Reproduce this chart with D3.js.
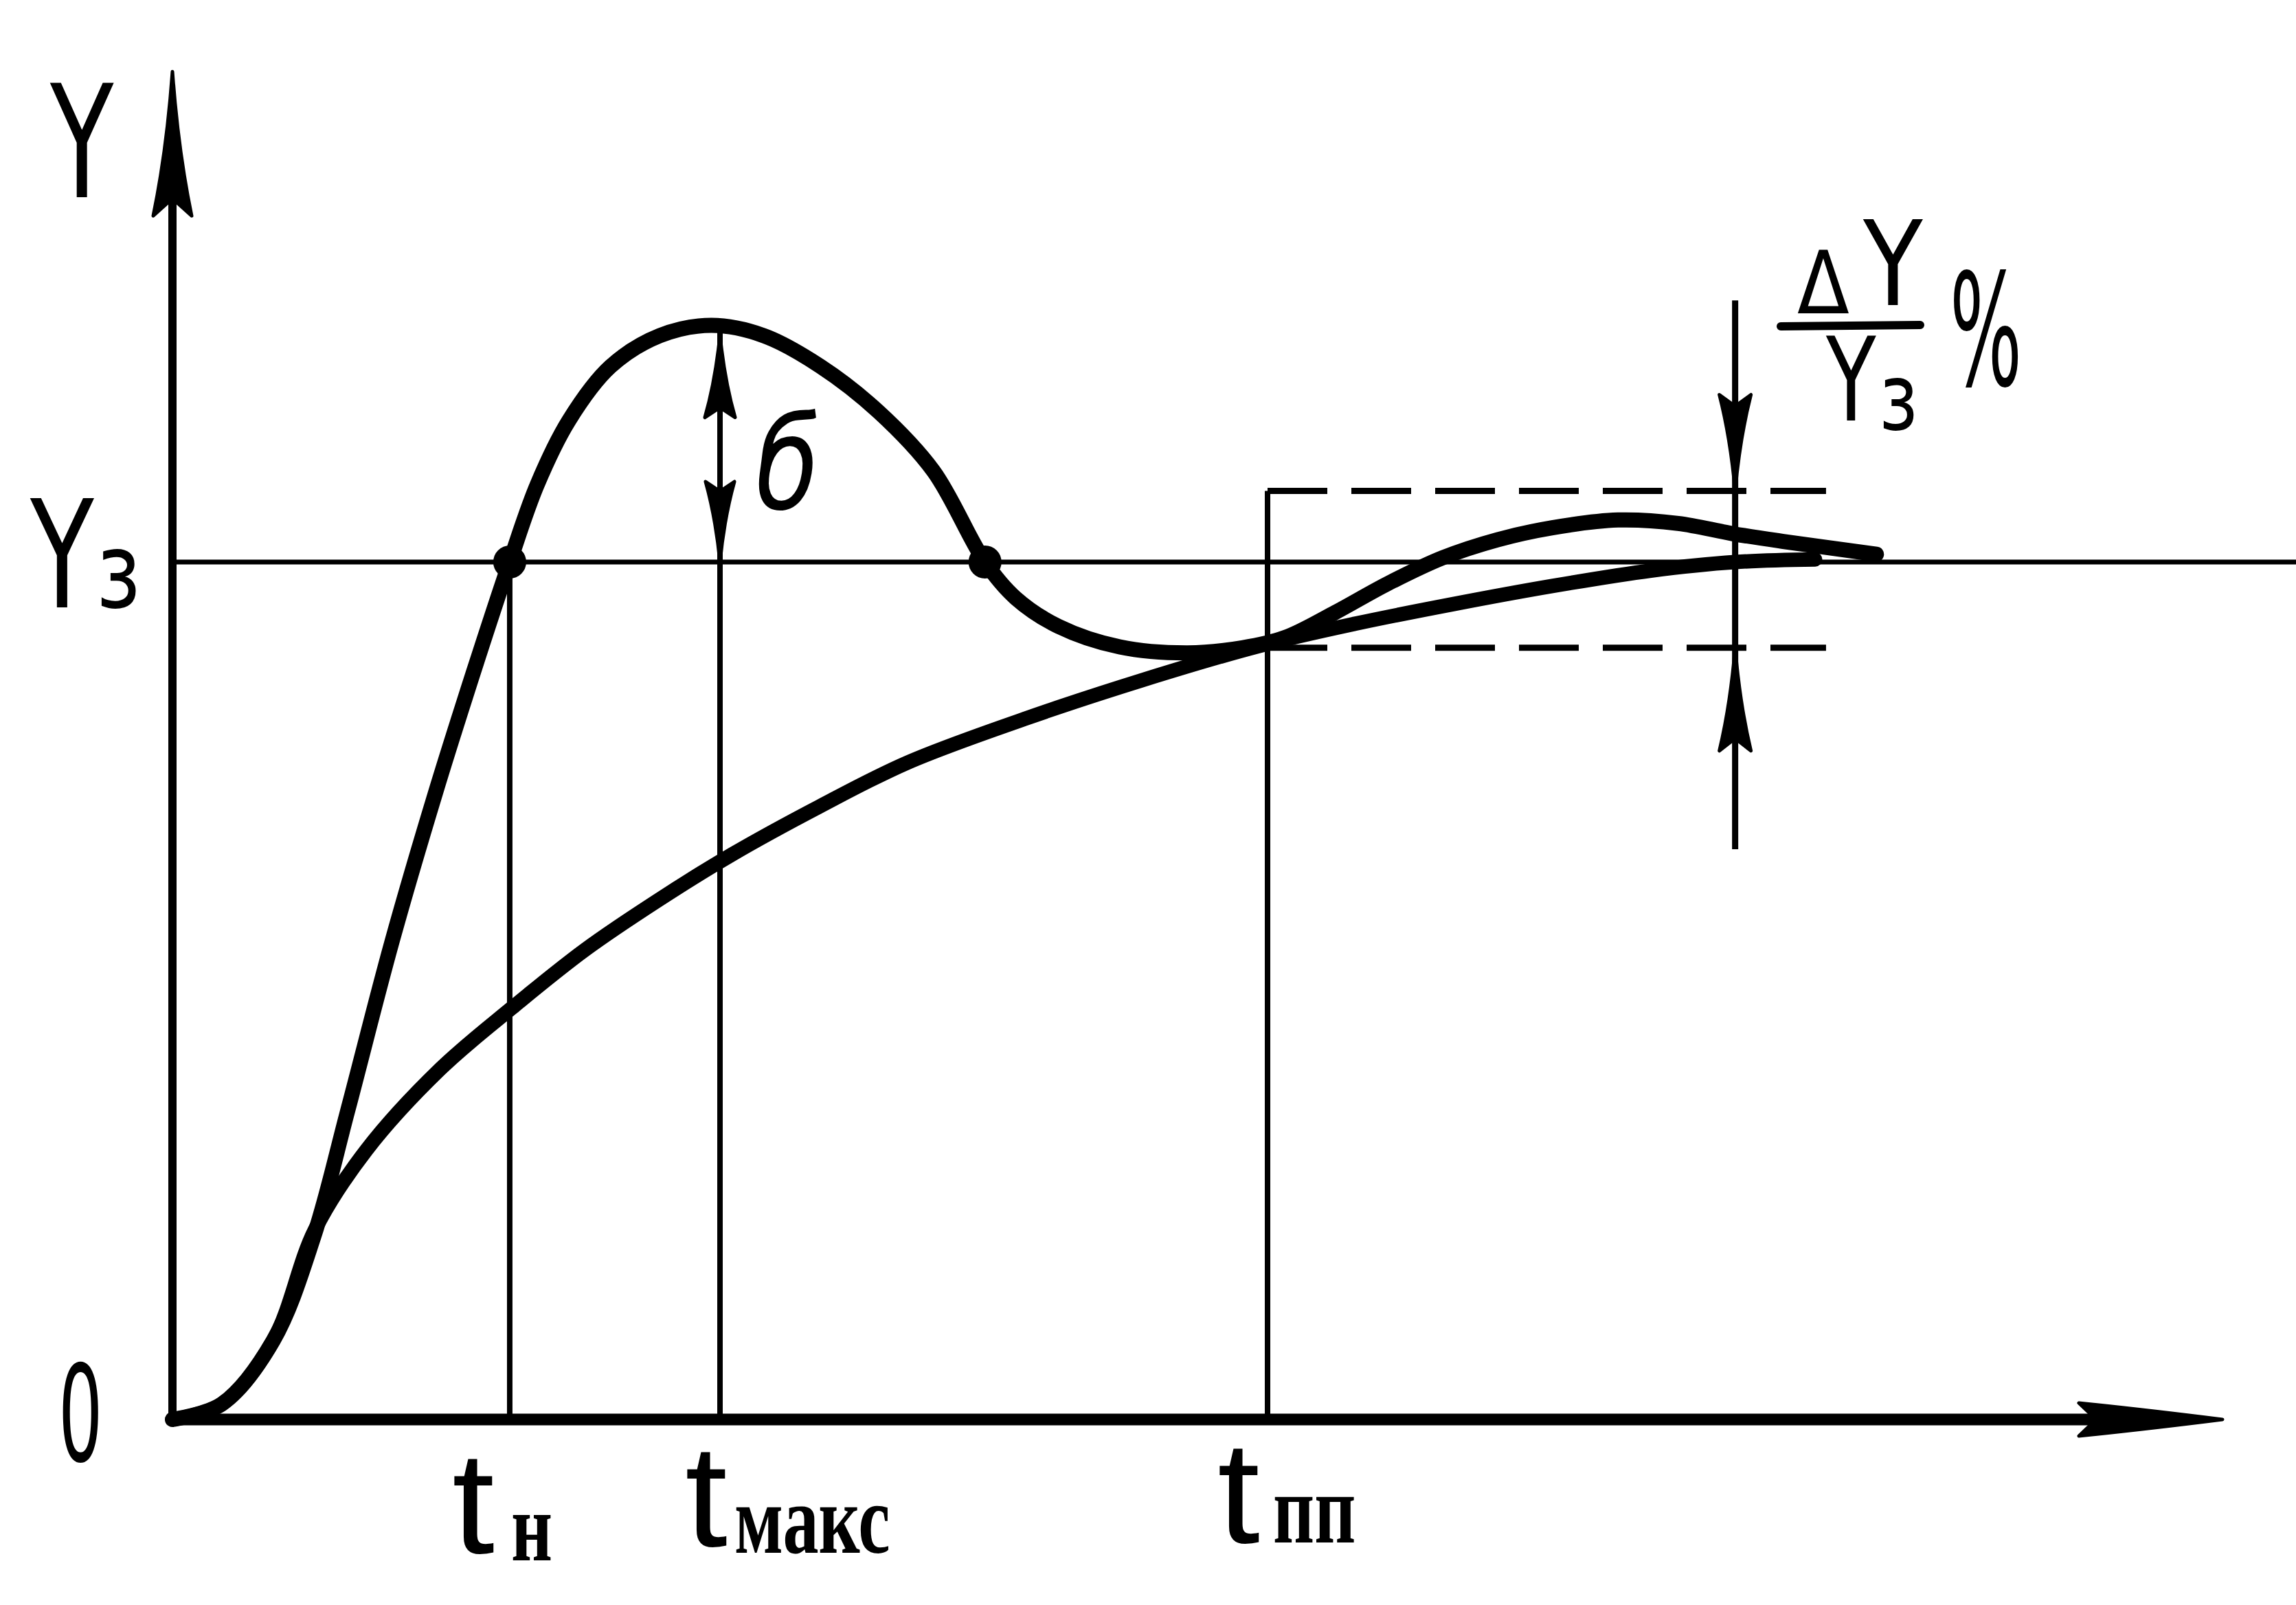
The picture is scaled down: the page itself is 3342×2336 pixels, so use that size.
<!DOCTYPE html>
<html>
<head>
<meta charset="utf-8">
<script src="https://cdn.jsdelivr.net/npm/d3@7"></script>
<style>
  body { margin: 0; background: #fff; }
  svg { display: block; }
</style>
</head>
<body>
<div id="chart"></div>
<script>
// values: t in units where t_pp = 10, Y in units of Y3
const overshootT = [0, 0.45, 0.92, 1.29, 1.6, 2.0, 2.4, 2.75, 3.08, 3.33, 3.62, 4.0, 4.45, 4.92, 5.4, 5.92, 6.45, 6.95, 7.42, 7.7, 8.09, 8.65, 9.27, 9.77, 10.16, 10.6, 11.1, 11.6, 12.1, 12.6, 13.2, 13.75, 14.25, 14.71, 15.56];
const overshootY = [0, 0.018, 0.092, 0.213, 0.36, 0.555, 0.73, 0.872, 1.0, 1.09, 1.165, 1.228, 1.264, 1.276, 1.264, 1.228, 1.175, 1.106, 1.0, 0.958, 0.925, 0.901, 0.894, 0.900, 0.912, 0.940, 0.975, 1.005, 1.026, 1.040, 1.049, 1.045, 1.033, 1.024, 1.009];

const smoothT = [0, 0.45, 0.92, 1.30, 1.77, 2.44, 3.10, 3.77, 4.44, 5.11, 5.91, 6.71, 7.78, 8.85, 9.92, 10.8, 11.7, 12.6, 13.5, 14.27, 15.0];
const smoothY = [0, 0.018, 0.092, 0.221, 0.314, 0.408, 0.480, 0.548, 0.606, 0.659, 0.715, 0.766, 0.817, 0.862, 0.902, 0.928, 0.951, 0.972, 0.990, 1.0, 1.003];

// marked times on the t axis and their labels
const markTimes = [3.08, 5.0, 10.0];
const markSubs = ["н", "макс", "пп"];
// crossings of Y3 that get a dot
const dotTimes = [3.08, 7.42];

const setPoint = 1.0;
const peakValue = 1.276;
const bandUpper = 1.083;
const bandLower = 0.900;
const bandEndT = 15.1;
const checkT = 14.27;
const checkTop = 1.305, checkBottom = 0.665;
const axisEndT = 18.72;
const axisTopY = 1.572;

const width = 3342, height = 2336;

const svg = d3.select('#chart').append('svg')
    .attr('width', width)
    .attr('height', height)
    .style('background', '#fff');

const x = d3.scaleLinear().domain([0, 10]).range([251, 1845]);
const y = d3.scaleLinear().domain([0, 1]).range([2066, 818]);

const ink = '#000';

function vline(t, y0, y1, w) {
    svg.append('line')
        .attr('x1', x(t)).attr('x2', x(t))
        .attr('y1', y(y0)).attr('y2', y(y1))
        .attr('stroke', ink).attr('stroke-width', w);
}

// narrow hand-drawn arrow head, sides pulled in by `bulge`
function arrowHead(tx, ty, dx, dy, len, half, bulge) {
    bulge = bulge === undefined ? 0.3 : bulge;
    const px = -dy, py = dx;
    const bx = tx - dx * len, by = ty - dy * len;
    const c1 = [tx - dx * len * 0.55 + px * half * bulge, ty - dy * len * 0.55 + py * half * bulge];
    const c2 = [tx - dx * len * 0.55 - px * half * bulge, ty - dy * len * 0.55 - py * half * bulge];
    const n = [tx - dx * len * 0.88, ty - dy * len * 0.88];
    const p = d3.path();
    p.moveTo(tx, ty);
    p.quadraticCurveTo(c1[0], c1[1], bx + px * half, by + py * half);
    p.lineTo(n[0], n[1]);
    p.lineTo(bx - px * half, by - py * half);
    p.quadraticCurveTo(c2[0], c2[1], tx, ty);
    p.closePath();
    svg.append('path').attr('d', p.toString())
        .attr('fill', ink).attr('stroke', ink)
        .attr('stroke-width', 5).attr('stroke-linejoin', 'round');
}

// Y3 reference line
svg.append('line')
    .attr('x1', x(0)).attr('x2', width)
    .attr('y1', y(setPoint)).attr('y2', y(setPoint))
    .attr('stroke', ink).attr('stroke-width', 7);

// axes
svg.append('line')
    .attr('x1', x(0)).attr('x2', x(0))
    .attr('y1', y(0) + 6).attr('y2', y(axisTopY) + 60)
    .attr('stroke', ink).attr('stroke-width', 12);
arrowHead(x(0), y(axisTopY), 0, -1, 210, 28);

svg.append('line')
    .attr('x1', x(0) - 6).attr('x2', x(axisEndT) - 80)
    .attr('y1', y(0)).attr('y2', y(0))
    .attr('stroke', ink).attr('stroke-width', 17);
arrowHead(x(axisEndT), y(0), 1, 0, 209, 24, 0.6);

// marker verticals
vline(markTimes[0], 0, setPoint, 8);
vline(markTimes[1], 0, peakValue, 8);
vline(markTimes[2], 0, bandUpper, 8);

// overshoot arrows on t_max
arrowHead(x(markTimes[1]), y(peakValue) + 14, 0, -1, 120, 22);
arrowHead(x(markTimes[1]), y(setPoint), 0, 1, 117, 21);

// tolerance band
[bandUpper, bandLower].forEach(v => {
    svg.append('line')
        .attr('x1', x(markTimes[2])).attr('x2', x(bandEndT))
        .attr('y1', y(v)).attr('y2', y(v))
        .attr('stroke', ink).attr('stroke-width', 9)
        .attr('stroke-dasharray', '87 35');
});

// band width arrows
vline(checkT, checkBottom, checkTop, 9);
arrowHead(x(checkT), y(bandUpper), 0, 1, 140, 23);
arrowHead(x(checkT), y(bandLower), 0, -1, 150, 23);

// response curves
const line = d3.line()
    .x(d => x(d[0]))
    .y(d => y(d[1]))
    .curve(d3.curveCatmullRom.alpha(0.5));

svg.append('path')
    .datum(smoothT.map((t, i) => [t, smoothY[i]]))
    .attr('d', line)
    .attr('fill', 'none').attr('stroke', ink)
    .attr('stroke-width', 21).attr('stroke-linecap', 'round').attr('stroke-linejoin', 'round');

svg.append('path')
    .datum(overshootT.map((t, i) => [t, overshootY[i]]))
    .attr('d', line)
    .attr('fill', 'none').attr('stroke', ink)
    .attr('stroke-width', 22).attr('stroke-linecap', 'round').attr('stroke-linejoin', 'round');

svg.selectAll('circle.cross')
    .data(dotTimes)
    .join('circle')
    .attr('class', 'cross')
    .attr('cx', d => x(d)).attr('cy', y(setPoint))
    .attr('r', 24).attr('fill', ink);

// text
function label(px, py, str, size, sx, opts) {
    opts = opts || {};
    return svg.append('text')
        .attr('transform', `translate(${px},${py}) scale(${sx},1)`)
        .attr('font-family', opts.family || 'DejaVu Sans')
        .attr('font-size', size)
        .attr('font-weight', opts.weight || 'normal')
        .attr('font-style', opts.style || 'normal')
        .attr('fill', ink)
        .text(str);
}

label(73, 287, 'Y', 229, 0.66);
// Y with subscript з
label(44, 884, 'Y', 217, 0.7);
label(140, 884, 'з', 152, 0.8);
label(85, 2126, '0', 195, 0.52);

// time marks
const tDx = [-84, -51, -73];
const subDx = [2, 21, 8];
const subBase = [2271, 2260, 2245];
const tBase = [2260, 2250, 2245];
markTimes.forEach((t, i) => {
    label(x(t) + tDx[i], tBase[i], 't', 212, 1.05, { family: 'Liberation Sans' });
    label(x(t) + subDx[i], subBase[i], markSubs[i], 145, 0.72, { family: 'Liberation Serif', weight: 'bold' });
});

// overshoot label
label(1100, 740, 'б', 188, 0.8, { style: 'italic' });

// ΔY / Y3 %
label(2616, 456, 'Δ', 126, 0.88);
label(2712, 444, 'Y', 171, 0.83);
svg.append('line')
    .attr('x1', 2592).attr('x2', 2795)
    .attr('y1', 475).attr('y2', 473)
    .attr('stroke', ink).attr('stroke-width', 12).attr('stroke-linecap', 'round');
label(2658, 612, 'Y', 170, 0.7);
label(2735, 625, 'з', 133, 0.8);
label(2838, 561, '%', 226, 0.49);
</script>
</body>
</html>
